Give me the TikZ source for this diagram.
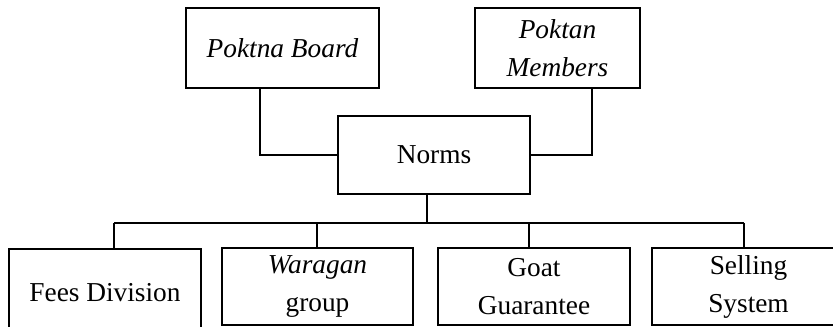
\documentclass[tikz,border=0pt]{standalone}
\usepackage{fontspec}
\setmainfont{Liberation Serif}
\begin{document}
\begin{tikzpicture}[x=0.75pt,y=-0.75pt,
  box/.style={draw=black,line width=1.35pt,fill=white,inner sep=0pt,align=center,
    font=\fontsize{20.5}{28.5}\selectfont},
  conn/.style={draw=black,line width=1.35pt}]
\useasboundingbox (0,0) rectangle (833,327);
\clip (0,0) rectangle (833,327);
% top row
\node[box,minimum width=144.75pt,minimum height=60pt] (board) at (282.5,48) {\itshape Poktna Board};
\node[box,minimum width=123.75pt,minimum height=60pt] (members) at (557.5,48) {\itshape Poktan\\\itshape Members};
\node[box,minimum width=144pt,minimum height=58.5pt] (norms) at (434,155) {Norms};
% bottom row
\node[box,minimum width=144pt,minimum height=66pt] (fees) at (105,293) {Fees Division};
\node[box,minimum width=143.25pt,minimum height=57.75pt] (waragan) at (317.5,286.5) {\itshape Waragan\\group};
\node[box,minimum width=144pt,minimum height=57.75pt] (goat) at (534,286.5) {Goat\\Guarantee};
\node[box,minimum width=144.75pt,minimum height=57.75pt] (selling) at (748.5,286.5) {Selling\\System};
% connectors top
\draw[conn] ([xshift=-16.9pt]board.south) |- (norms.west);
\draw[conn] ([xshift=25.9pt]members.south) |- (norms.east);
% bus
\coordinate (d0) at (427,223);
\coordinate (d1) at (114,223);
\coordinate (d2) at (317,223);
\coordinate (d3) at (529,223);
\coordinate (d4) at (744,223);
\draw[conn] (d0 |- norms.south) -- (d0);
\draw[conn] (d1) -- (d4);
\draw[conn] (d1) -- (d1 |- fees.north);
\draw[conn] (d2) -- (d2 |- waragan.north);
\draw[conn] (d3) -- (d3 |- goat.north);
\draw[conn] (d4) -- (d4 |- selling.north);
\end{tikzpicture}
\end{document}
